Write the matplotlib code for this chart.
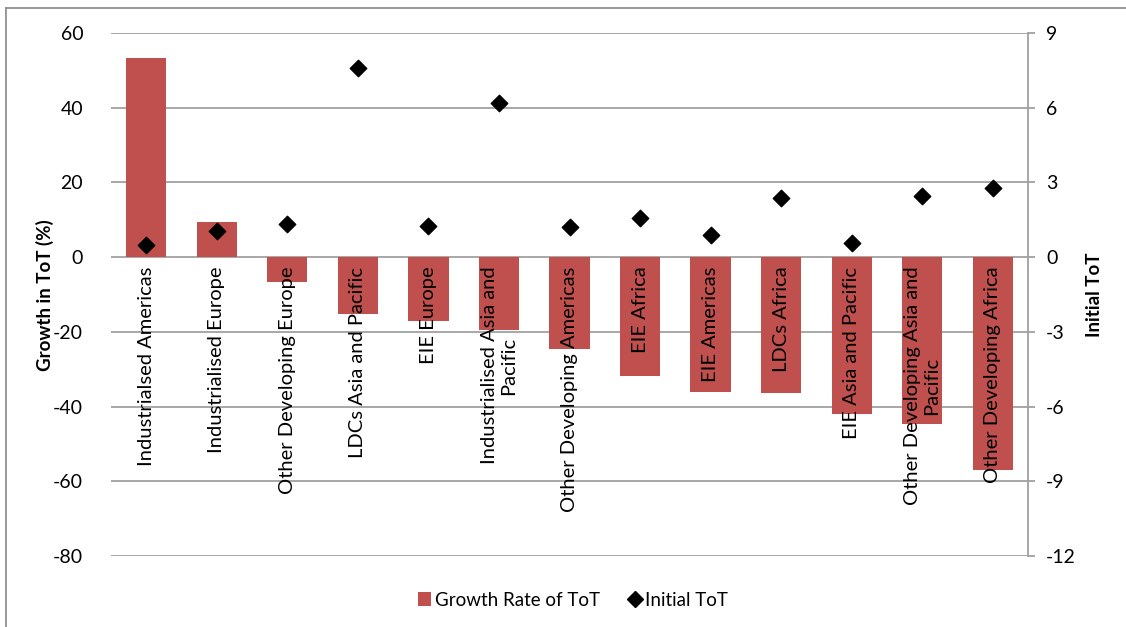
import numpy as np
import matplotlib
matplotlib.use('Agg')
import matplotlib.pyplot as plt
from matplotlib.lines import Line2D
from matplotlib.patches import Patch

plt.rcParams['font.family'] = ['Lato', 'DejaVu Sans']
plt.rcParams['axes.unicode_minus'] = False

# Data
categories = ['Industrialsed Americas', 'Industrialised Europe', 'Other Developing Europe',
              'LDCs Asia and Pacific', 'EIE Europe', 'Industrialised Asia and\nPacific',
              'Other Developing Americas', 'EIE Africa', 'EIE Americas', 'LDCs Africa',
              'EIE Asia and Pacific', 'Other Developing Asia and\nPacific',
              'Other Developing Africa']
growth = [53.3, 9.4, -6.6, -15.1, -17.1, -19.4, -24.7, -31.7, -36.2, -36.5, -42.0, -44.7, -57.1]
initial_tot = [0.48, 1.04, 1.33, 7.6, 1.27, 6.18, 1.2, 1.59, 0.9, 2.36, 0.56, 2.46, 2.78]

left_ticks = np.arange(-80, 61, 20)
right_ticks = np.arange(-12, 10, 3)

bar_color = '#C0504D'
grid_color = '#A0A0A0'

fig = plt.figure(figsize=(11.26, 6.27), dpi=100)
ax = fig.add_axes([111 / 1126, 1 - 556 / 627, (1028 - 111) / 1126, (556 - 33) / 627])
ax2 = ax.twinx()

x = np.arange(len(categories))
ax.bar(x, growth, width=0.57, color=bar_color, zorder=2)
ax2.scatter(x, initial_tot, marker='D', s=70, color='black', zorder=3)

ax.set_xlim(-0.5, len(categories) - 0.5)
ax.set_ylim(-80, 60)
ax2.set_ylim(-12, 9)
ax.set_yticks(left_ticks)
ax2.set_yticks(right_ticks)
ax.yaxis.grid(True, color=grid_color, linewidth=1.3, zorder=0)
ax.set_axisbelow(True)
ax.set_xticks([])

for a in (ax, ax2):
    for s in ('top', 'bottom', 'left'):
        a.spines[s].set_visible(False)
ax.spines['right'].set_visible(False)
ax2.spines['right'].set_color(grid_color)
ax2.spines['right'].set_linewidth(1.3)

ax.tick_params(axis='y', length=0, pad=20, labelsize=14)
ax2.tick_params(axis='y', length=5, color=grid_color, width=1.3, pad=8, labelsize=14)

for xi, label in zip(x, categories):
    ax.text(xi, -2.6, label, rotation=90, ha='center', va='top', fontsize=14.5,
            multialignment='center', zorder=4)

fig.text(45 / 1126, 1 - 295 / 627, 'Growth in ToT (%)', rotation=90, ha='center',
         va='center', fontsize=13.5, fontweight='bold')
fig.text(1095 / 1126, 1 - 295 / 627, 'Initial ToT', rotation=90, ha='center',
         va='center', fontsize=13.5, fontweight='bold')

handles = [Patch(facecolor=bar_color, label='Growth Rate of ToT'),
           Line2D([], [], marker='D', color='black', linestyle='none', markersize=8,
                  label='Initial ToT')]
fig.legend(handles=handles, loc='center', bbox_to_anchor=(573 / 1126, 1 - 600 / 627),
           ncol=2, frameon=False, fontsize=13.5, handlelength=0.7, handleheight=0.7,
           handletextpad=0.2, columnspacing=1.5)

# outer chart border (top and left edges visible)
fig.add_artist(Line2D([6 / 1126, 6 / 1126], [0, 1 - 8 / 627], transform=fig.transFigure,
                      color='#909090', linewidth=1.3))
fig.add_artist(Line2D([6 / 1126, 1], [1 - 8 / 627, 1 - 8 / 627], transform=fig.transFigure,
                      color='#909090', linewidth=1.3))

fig.savefig('out.png', dpi=100)
